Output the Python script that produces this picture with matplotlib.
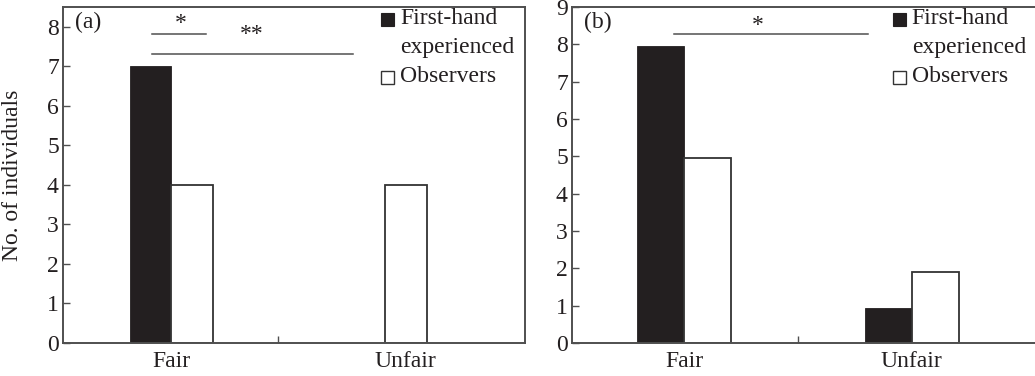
import matplotlib
matplotlib.use('Agg')
import matplotlib.pyplot as plt
from matplotlib.patches import Rectangle
import numpy as np

# ---- data ----
categories = ['Fair', 'Unfair']
first_a = [7, 0]
obs_a = [4, 4]
first_b = [7.95, 0.93]
obs_b = [4.95, 1.9]
yticks_a = list(range(0, 9))
yticks_b = list(range(0, 10))
legend_labels = ['First-hand\nexperienced', 'Observers']
ylabel = 'No. of individuals'

plt.rcParams['font.family'] = ['Liberation Serif', 'DejaVu Serif']
DARK = '#231f20'
SPINE = '#4f4f4f'
FS = 17

W, H = 1035, 376
fig = plt.figure(figsize=(W / 100, H / 100), dpi=100)
axA = fig.add_axes([63 / W, 33 / H, 462 / W, 336 / H])
axB = fig.add_axes([572 / W, 33 / H, 463 / W, 336 / H])


def draw(ax, first, obs, yticks, ylim, xlim, w, lab_off, panel, sq_x, right_spine=True):
    x = np.arange(len(categories))
    ax.bar(x - w / 2, first, w, color=DARK, edgecolor=DARK, linewidth=0.6, zorder=2)
    ax.bar(x + w / 2, obs, w, color='white', edgecolor='#333333', linewidth=1.3, zorder=2)
    ax.set_xlim(xlim)
    ax.set_ylim(ylim)
    ax.set_yticks(yticks)
    ax.set_yticklabels([str(t) for t in yticks], fontsize=FS, color=DARK)
    ax.set_xticks([0.5])
    ax.set_xticklabels([''])
    ax.set_xticks(x + np.array(lab_off), minor=True)
    ax.set_xticklabels(categories, minor=True, fontsize=FS, color=DARK)
    ax.tick_params(axis='x', which='minor', length=0, pad=6)
    ax.tick_params(which='major', direction='in', length=5, width=1.0, color=SPINE)
    ax.tick_params(axis='y', pad=3)
    for s in ax.spines.values():
        s.set_color(SPINE)
        s.set_linewidth(1.4)
        s.set_zorder(3)
    if not right_spine:
        ax.spines['right'].set_visible(False)
    ax.text(12 / 462, 1 - 15 / 336, panel, transform=ax.transAxes, fontsize=FS,
            color=DARK, ha='left', va='center')
    # legend (manual)
    sq = 13
    ax.add_patch(Rectangle((sq_x / 462, 1 - (12 + sq / 2) / 336), sq / 462, sq / 336,
                           transform=ax.transAxes, facecolor=DARK, edgecolor=DARK,
                           lw=0.8, clip_on=False))
    ax.add_patch(Rectangle((sq_x / 462, 1 - (70 + sq / 2) / 336), sq / 462, sq / 336,
                           transform=ax.transAxes, facecolor='white', edgecolor='#333333',
                           lw=1.0, clip_on=False))
    tx = (sq_x + 19) / 462
    ax.text(tx, 1 - 12 / 336, legend_labels[0].split('\n')[0], transform=ax.transAxes,
            fontsize=FS, color=DARK, ha='left', va='center')
    ax.text(tx, 1 - 41 / 336, legend_labels[0].split('\n')[1], transform=ax.transAxes,
            fontsize=FS, color=DARK, ha='left', va='center')
    ax.text(tx, 1 - 70 / 336, legend_labels[1], transform=ax.transAxes,
            fontsize=FS, color=DARK, ha='left', va='center')


draw(axA, first_a, obs_a, yticks_a, (0, 8.5), (-0.508, 1.656), 0.195,
     [0.0, 0.0975], '(a)', 318)
draw(axB, first_b, obs_b, yticks_b, (0, 9), (-0.493, 1.542), 0.207,
     [0.0, 0.0], '(b)', 320, right_spine=False)

# significance marks
axA.plot([-0.091, 0.162], [7.82, 7.82], color=SPINE, lw=1.1)
axA.text(0.044, 8.08, '*', fontsize=17, ha='center', va='center', color=DARK)
axA.plot([-0.091, 0.850], [7.32, 7.32], color=SPINE, lw=1.1)
axA.text(0.377, 7.80, '**', fontsize=17, ha='center', va='center', color=DARK)
axB.plot([-0.044, 0.806], [8.28, 8.28], color=SPINE, lw=1.1)
axB.text(0.322, 8.50, '*', fontsize=17, ha='center', va='center', color=DARK)

axA.set_ylabel(ylabel, fontsize=FS, color=DARK)
axA.yaxis.set_label_coords(-0.086, 0.5)

fig.savefig('out.png', dpi=100)
